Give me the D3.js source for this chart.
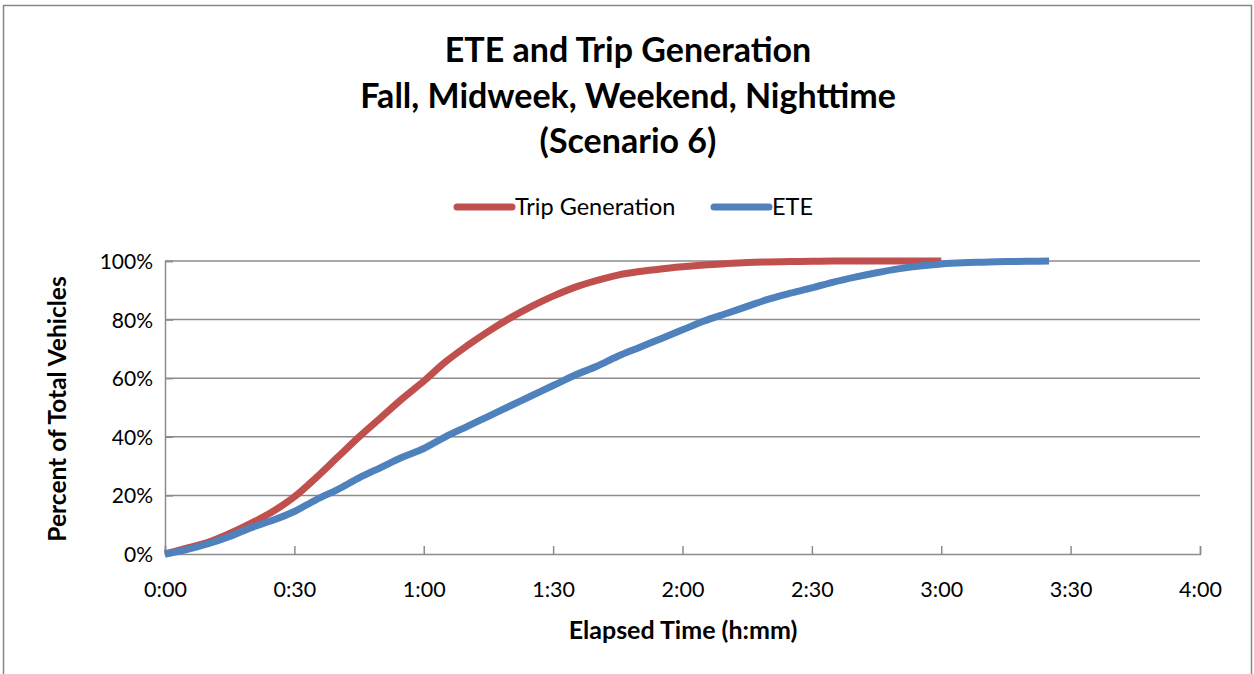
<!DOCTYPE html>
<html>
<head>
<meta charset="utf-8">
<script src="https://cdn.jsdelivr.net/npm/d3@7"></script>
<style>
  body { margin: 0; background: #fff; }
  text { font-family: Lato, "Open Sans", sans-serif; fill: #000; }
</style>
</head>
<body>
<div id="chart"></div>
<script>
// Chart data (minutes elapsed, percent of total vehicles)
const titleLines = ["ETE and Trip Generation", "Fall, Midweek, Weekend, Nighttime", "(Scenario 6)"];
const tripMinutes = [0, 5, 10, 15, 20, 25, 30, 35, 40, 45, 50, 55, 60, 65, 70, 75, 80, 85, 90, 95, 100,
  105, 110, 115, 120, 125, 130, 135, 140, 145, 150, 155, 160, 165, 170, 175, 180];
const tripPercent = [0, 2, 4, 7, 10.5, 14.5, 19.5, 26, 33, 40, 46.5, 53, 59, 65.5, 71, 76, 80.5, 84.5, 88, 91, 93.3,
  95.2, 96.4, 97.3, 98, 98.6, 99.1, 99.5, 99.7, 99.8, 99.9, 100, 100, 100, 100, 100, 100];
const eteMinutes = [0, 5, 10, 15, 20, 25, 30, 35, 40, 45, 50, 55, 60, 65, 70, 75, 80, 85, 90, 95, 100,
  105, 110, 115, 120, 125, 130, 135, 140, 145, 150, 155, 160, 165, 170, 175, 180, 185, 190, 195, 200, 205];
const etePercent = [0, 1.5, 3.5, 6, 9, 11.5, 14.5, 18.5, 22, 26, 29.5, 33, 36, 40, 43.5, 47, 50.5, 54, 57.5, 61, 64,
  67.5, 70.5, 73.5, 76.5, 79.5, 82, 84.5, 87, 89, 90.8, 92.8, 94.5, 96, 97.3, 98.3, 99, 99.4, 99.6, 99.8, 99.9, 100];
const xTicks = [0, 30, 60, 90, 120, 150, 180, 210, 240];
const yTicks = [0, 20, 40, 60, 80, 100];

const width = 1254;
const height = 674;
const plot = { left: 165, right: 1200, top: 261, bottom: 554 };

const svg = d3.select("#chart")
  .append("svg")
  .attr("width", width)
  .attr("height", height);

// Outer chart border
svg.append("rect")
  .attr("x", 3.5).attr("y", 5.5)
  .attr("width", 1248).attr("height", 700)
  .attr("fill", "none")
  .attr("stroke", "#868686")
  .attr("stroke-width", 1.5);

const x = d3.scaleLinear().domain([0, 240]).range([plot.left, plot.right]);
const y = d3.scaleLinear().domain([0, 100]).range([plot.bottom, plot.top]);

const fmtTime = m => Math.floor(m / 60) + ":" + String(m % 60).padStart(2, "0");

// Gridlines
svg.append("g")
  .selectAll("line")
  .data(yTicks.filter(d => d > 0))
  .enter().append("line")
  .attr("x1", plot.left).attr("x2", plot.right)
  .attr("y1", d => y(d)).attr("y2", d => y(d))
  .attr("stroke", "#8c8c8c")
  .attr("stroke-width", 1.5);

// Y axis
const yAxis = svg.append("g")
  .attr("transform", `translate(${plot.left},0)`)
  .call(d3.axisRight(y).tickValues(yTicks).tickSize(8).tickFormat(d => d + "%"));
yAxis.select(".domain").attr("stroke", "#8c8c8c").attr("stroke-width", 1.5);
yAxis.selectAll(".tick line").attr("stroke", "#8c8c8c").attr("stroke-width", 1.5);
yAxis.selectAll(".tick text")
  .attr("x", -12).attr("dy", "0.36em")
  .attr("text-anchor", "end")
  .style("font-size", "21px");

// X axis
const xAxis = svg.append("g")
  .attr("transform", `translate(0,${plot.bottom})`)
  .call(d3.axisTop(x).tickValues(xTicks).tickSize(8).tickFormat(fmtTime));
xAxis.select(".domain").attr("stroke", "#8c8c8c").attr("stroke-width", 1.5);
xAxis.selectAll(".tick line").attr("stroke", "#8c8c8c").attr("stroke-width", 1.5);
xAxis.selectAll(".tick text")
  .attr("y", 43).attr("dy", "0")
  .style("font-size", "21.5px");

// Series lines
const line = d3.line()
  .x(d => x(d[0]))
  .y(d => y(d[1]))
  .curve(d3.curveMonotoneX);

const series = [
  { name: "Trip Generation", color: "#c0504d", pts: d3.zip(tripMinutes, tripPercent) },
  { name: "ETE", color: "#4f81bd", pts: d3.zip(eteMinutes, etePercent) }
];

svg.append("g")
  .selectAll("path")
  .data(series)
  .enter().append("path")
  .attr("d", d => line(d.pts))
  .attr("fill", "none")
  .attr("stroke", d => d.color)
  .attr("stroke-width", 7);

// Title
svg.append("g")
  .selectAll("text")
  .data(titleLines)
  .enter().append("text")
  .attr("x", 628)
  .attr("y", (d, i) => 62 + i * 45.5)
  .attr("text-anchor", "middle")
  .style("font-size", "34px")
  .style("font-weight", "bold")
  .text(d => d);

// Legend
const legendPos = [455, 712];
const legend = svg.append("g")
  .selectAll("g")
  .data(series)
  .enter().append("g")
  .attr("transform", (d, i) => `translate(${legendPos[i]},207)`);
legend.append("line")
  .attr("x1", 2).attr("x2", 57)
  .attr("stroke", d => d.color)
  .attr("stroke-width", 7)
  .attr("stroke-linecap", "round");
legend.append("text")
  .attr("x", 60).attr("dy", "0.36em")
  .style("font-size", "23.5px")
  .text(d => d.name);

// Axis titles
svg.append("text")
  .attr("x", 683).attr("y", 639)
  .attr("text-anchor", "middle")
  .style("font-size", "25px")
  .style("font-weight", "bold")
  .text("Elapsed Time (h:mm)");

svg.append("text")
  .attr("transform", "translate(66,409) rotate(-90)")
  .attr("text-anchor", "middle")
  .style("font-size", "24.5px")
  .style("font-weight", "bold")
  .text("Percent of Total Vehicles");
</script>
</body>
</html>
